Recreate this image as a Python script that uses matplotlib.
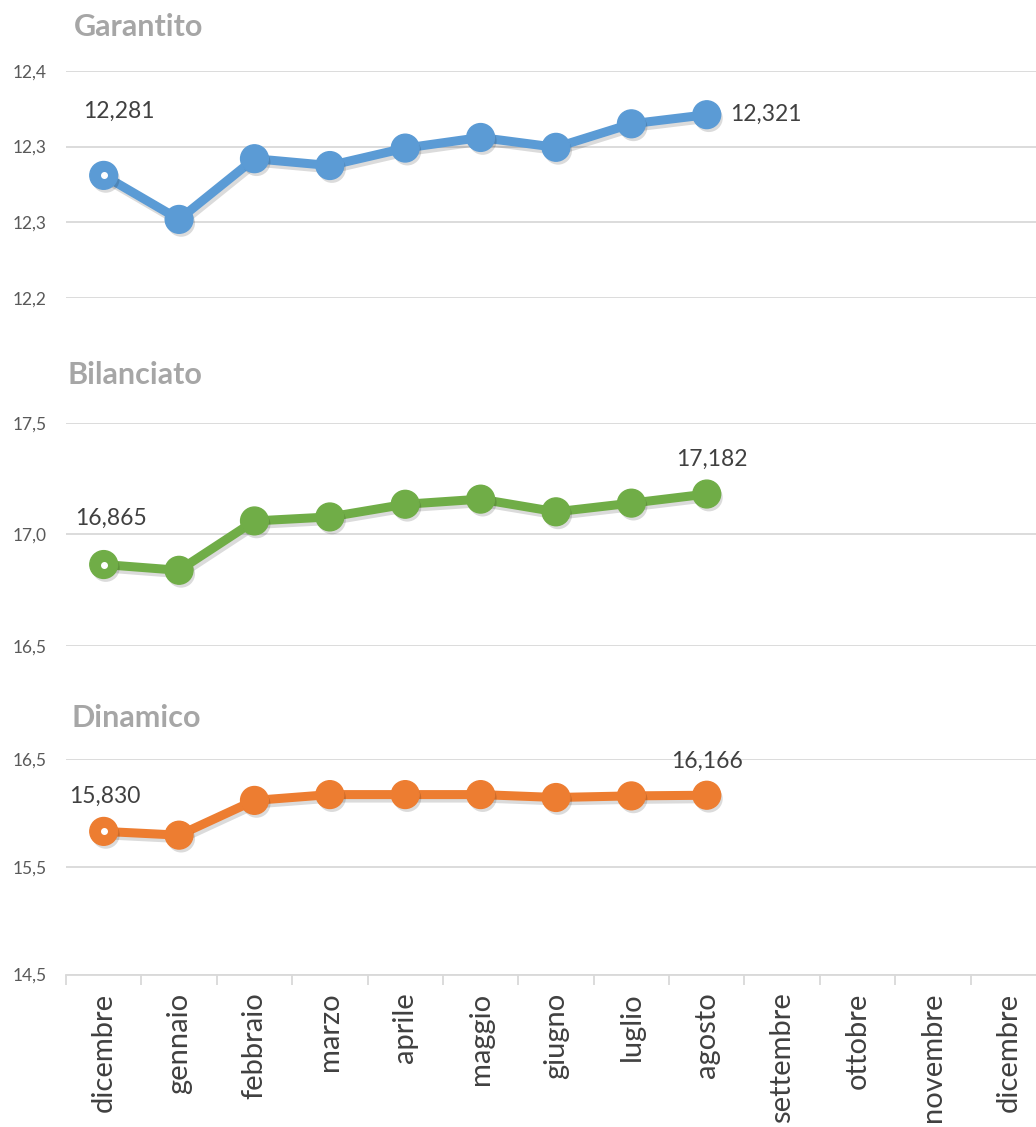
import matplotlib
matplotlib.use('Agg')
import matplotlib.pyplot as plt
import matplotlib.patheffects as pe
import numpy as np

plt.rcParams['font.family'] = ['Lato', 'DejaVu Sans']
plt.rcParams['font.size'] = 13

# valori quota per mese
mesi = ['dicembre', 'gennaio', 'febbraio', 'marzo', 'aprile', 'maggio', 'giugno',
        'luglio', 'agosto', 'settembre', 'ottobre', 'novembre', 'dicembre']

garantito = [12.281, 12.252, 12.292, 12.2875, 12.299, 12.306, 12.2995, 12.315, 12.321]
bilanciato = [16.865, 16.839, 17.061, 17.079, 17.136, 17.159, 17.102, 17.141, 17.182]
dinamico = [15.830, 15.795, 16.118, 16.172, 16.172, 16.172, 16.145, 16.160, 16.166]

# assi y
tick_gar = [12.20, 12.25, 12.30, 12.35]
lab_gar = ['12,2', '12,3', '12,3', '12,4']
tick_bil = [16.5, 17.0, 17.5]
lab_bil = ['16,5', '17,0', '17,5']
tick_din = [14.5, 15.5, 16.5]
lab_din = ['14,5', '15,5', '16,5']

BLU = '#5B9BD5'
VERDE = '#70AD47'
ARANCIO = '#ED7D31'
GRIGIO_GRID = '#D9D9D9'
TESTO = '#404040'

W, H = 1036, 1127
fig = plt.figure(figsize=(W / 100, H / 100), dpi=100)


def px_axes(top, bottom):
    # posizione dell'asse in pixel dell'immagine
    return [66 / W, 1 - bottom / H, 980 / W, (bottom - top) / H]


def pannello(pos, valori, colore, ticks, labels, etichette, ultimo=False):
    ax = fig.add_axes(pos)
    x = np.arange(len(valori))
    ax.plot(x, valori, color=colore, lw=6.5, solid_joinstyle='round', clip_on=False, zorder=3,
            path_effects=[pe.SimpleLineShadow(offset=(1.5, -2.5), alpha=0.14, shadow_color='k'), pe.Normal()])
    ax.plot(x, valori, 'o', color=colore, ms=20, mec=colore, clip_on=False, zorder=4,
            path_effects=[pe.SimplePatchShadow(offset=(1.5, -2.5), alpha=0.14, shadow_rgbFace='k'), pe.Normal()])
    # primo punto con il pallino bianco
    ax.plot(x[0], valori[0], 'o', color='white', ms=4, zorder=5, clip_on=False)

    ax.set_xlim(-0.5, len(mesi) - 0.5)
    ax.set_ylim(ticks[0], ticks[-1])
    ax.set_yticks(ticks)
    ax.set_yticklabels(labels, color='#595959', fontsize=12.5)
    ax.tick_params(axis='y', length=0, pad=14)
    ax.grid(axis='y', color=GRIGIO_GRID, lw=1.3)
    ax.set_axisbelow(True)
    for s in ax.spines.values():
        s.set_visible(False)

    for i, (dx, dy, ha) in etichette.items():
        ax.annotate(('%.3f' % valori[i]).replace('.', ','), (x[i], valori[i]),
                    xytext=(dx, dy), textcoords='offset pixels', ha=ha, va='center',
                    fontsize=16.5, color=TESTO, zorder=6)

    if ultimo:
        ax.spines['bottom'].set_visible(True)
        ax.spines['bottom'].set_color(GRIGIO_GRID)
        ax.spines['bottom'].set_linewidth(1.3)
        ax.set_xticks(np.arange(len(mesi) + 1) - 0.5)
        ax.set_xticklabels([])
        ax.tick_params(axis='x', which='major', length=7.5, color=GRIGIO_GRID, width=1.3)
        ax.set_xticks(np.arange(len(mesi)), minor=True)
        ax.set_xticklabels(mesi, minor=True, rotation=90, fontsize=21, color='#404040', va='top')
        ax.tick_params(axis='x', which='minor', length=0, pad=13)
    else:
        ax.set_xticks([])
    return ax


pannello(px_axes(70.7, 298.3), garantito, BLU, tick_gar, lab_gar,
         {0: (15, 64, 'center'), 8: (23, 0, 'left')})
pannello(px_axes(423.3, 645.7), bilanciato, VERDE, tick_bil, lab_bil,
         {0: (7, 46, 'center'), 8: (5, 35, 'center')})
pannello(px_axes(759.3, 974.5), dinamico, ARANCIO, tick_din, lab_din,
         {0: (1, 35, 'center'), 8: (0, 34, 'center')}, ultimo=True)

# titoli dei comparti
for nome, xx, yy in [('Garantito', 74, 27), ('Bilanciato', 68, 375), ('Dinamico', 72, 718)]:
    fig.text(xx / W, 1 - yy / H, nome, fontsize=22, fontweight='bold', color='#A6A6A6',
             ha='left', va='center')

plt.savefig('out.png', dpi=100)
